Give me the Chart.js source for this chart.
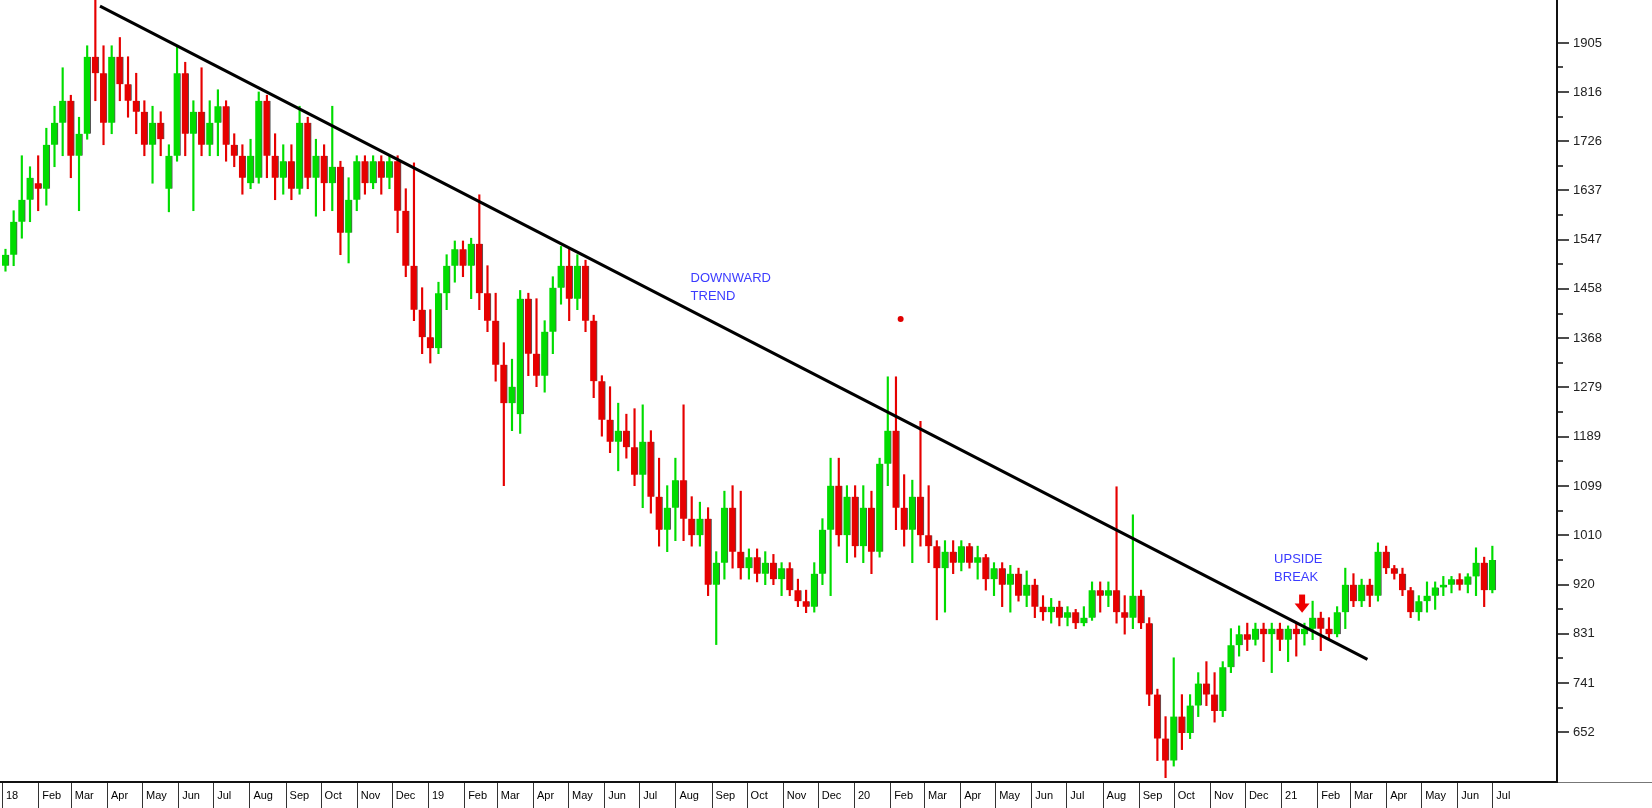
<!DOCTYPE html>
<html>
<head>
<meta charset="utf-8">
<script src="https://cdn.jsdelivr.net/npm/chart.js@4.4.1/dist/chart.umd.min.js"></script>
<style>
  html, body { margin: 0; padding: 0; background: #fff; }
  #wrap { width: 1652px; height: 808px; }
</style>
</head>
<body>
<div id="wrap"><canvas id="chart" width="1652" height="808"></canvas></div>
<script>
// weekly bars, first week starts Mon 1 Jan 2018
const firstWeek = "2018-01-01";

const opens = [
  1500, 1520, 1580, 1620, 1650, 1640, 1720, 1760, 1800, 1700,
  1740, 1880, 1850, 1760, 1880, 1830, 1800, 1780, 1720, 1760,
  1640, 1700, 1850, 1740, 1780, 1720, 1760, 1790, 1720, 1700,
  1650, 1660, 1800, 1700, 1660, 1690, 1640, 1760, 1660, 1700,
  1650, 1680, 1560, 1620, 1690, 1650, 1690, 1660, 1690, 1600,
  1500, 1420, 1370, 1350, 1450, 1500, 1530, 1500, 1540, 1450,
  1400, 1320, 1250, 1230, 1440, 1340, 1300, 1380, 1460, 1500,
  1440, 1500, 1400, 1290, 1220, 1180, 1200, 1170, 1120, 1180,
  1080, 1020, 1060, 1110, 1040, 1010, 1040, 920, 960, 1060,
  980, 950, 970, 940, 960, 930, 950, 910, 890, 880,
  940, 1020, 1100, 1010, 1080, 990, 1060, 980, 1140, 1200,
  1060, 1020, 1080, 1010, 990, 950, 980, 960, 990, 960,
  970, 930, 950, 920, 940, 900, 920, 880, 870, 880,
  860, 870, 850, 860, 910, 900, 910, 870, 860, 900,
  850, 720, 640, 600, 680, 650, 700, 740, 720, 690,
  770, 810, 830, 820, 840, 830, 840, 820, 840, 830,
  840, 860, 840, 830, 870, 920, 890, 920, 900, 980,
  950, 940, 910, 870, 890, 900, 915, 920, 930, 920,
  935, 960, 910
];
const highs = [
  1530, 1600, 1700, 1680, 1700, 1750, 1790, 1860, 1810, 1770,
  1900, 1983, 1900, 1900, 1915, 1880, 1850, 1800, 1790, 1780,
  1720, 1898, 1870, 1800, 1860, 1800, 1820, 1800, 1740, 1720,
  1730, 1816, 1810, 1740, 1720, 1720, 1790, 1770, 1730, 1720,
  1790, 1690, 1660, 1700, 1700, 1700, 1700, 1700, 1700, 1640,
  1687, 1460, 1420, 1470, 1520, 1545, 1545, 1550, 1629, 1500,
  1450, 1360, 1330, 1455, 1450, 1440, 1400, 1480, 1535, 1530,
  1520, 1510, 1410, 1300, 1280, 1250, 1230, 1240, 1247, 1200,
  1150, 1100, 1150, 1247, 1080, 1070, 1060, 980, 1090, 1100,
  1090, 985, 985, 980, 975, 960, 960, 930, 910, 960,
  1040, 1150, 1150, 1100, 1100, 1100, 1090, 1150, 1298, 1298,
  1120, 1110, 1217, 1100, 1000, 1000, 1000, 1000, 995, 990,
  975, 960, 960, 955, 950, 945, 930, 900, 895, 890,
  880, 875, 880, 925, 925, 925, 1098, 900, 1047, 910,
  860, 730, 680, 787, 720, 720, 760, 780, 760, 780,
  840, 845, 850, 850, 850, 850, 850, 845, 850, 850,
  890, 870, 860, 880, 950, 940, 930, 930, 996, 990,
  955, 950, 915, 900, 925, 925, 935, 935, 940, 940,
  987, 970, 990
];
const lows = [
  1490, 1500, 1550, 1580, 1600, 1610, 1680, 1700, 1660, 1600,
  1730, 1800, 1720, 1740, 1800, 1770, 1740, 1700, 1650, 1700,
  1598, 1690, 1700, 1600, 1700, 1700, 1700, 1690, 1680, 1630,
  1640, 1650, 1660, 1620, 1630, 1620, 1630, 1640, 1590, 1600,
  1600, 1520, 1505, 1600, 1630, 1640, 1630, 1640, 1560, 1480,
  1400, 1340, 1323, 1340, 1420, 1470, 1480, 1440, 1420, 1380,
  1290, 1100, 1200, 1195, 1300, 1280, 1270, 1340, 1430, 1400,
  1420, 1380, 1260, 1190, 1160, 1127, 1150, 1100, 1060, 1050,
  990, 980, 1000, 1000, 990, 990, 900, 811, 930, 950,
  930, 930, 925, 920, 920, 900, 900, 880, 869, 870,
  920, 900, 990, 960, 970, 960, 940, 970, 1100, 1020,
  990, 960, 990, 960, 856, 870, 940, 945, 950, 930,
  910, 900, 880, 870, 890, 880, 860, 855, 850, 845,
  845, 840, 845, 855, 870, 880, 850, 830, 840, 840,
  700, 600, 569, 590, 620, 640, 680, 700, 670, 680,
  760, 790, 800, 810, 780, 760, 800, 780, 790, 810,
  820, 800, 820, 825, 840, 880, 880, 880, 890, 940,
  930, 900, 860, 855, 870, 875, 900, 905, 910, 905,
  900, 880, 905
];
const closes = [
  1520, 1580, 1620, 1660, 1640, 1720, 1760, 1800, 1700, 1740,
  1880, 1850, 1760, 1880, 1830, 1800, 1780, 1720, 1760, 1730,
  1700, 1850, 1740, 1780, 1720, 1760, 1790, 1720, 1700, 1660,
  1700, 1800, 1700, 1660, 1690, 1640, 1760, 1660, 1700, 1650,
  1680, 1560, 1620, 1690, 1650, 1690, 1660, 1690, 1600, 1500,
  1420, 1370, 1350, 1450, 1500, 1530, 1500, 1540, 1450, 1400,
  1320, 1250, 1280, 1440, 1340, 1300, 1380, 1460, 1500, 1440,
  1500, 1400, 1290, 1220, 1180, 1200, 1170, 1120, 1180, 1080,
  1020, 1060, 1110, 1040, 1010, 1040, 920, 960, 1060, 980,
  950, 970, 940, 960, 930, 950, 910, 890, 880, 940,
  1020, 1100, 1010, 1080, 990, 1060, 980, 1140, 1200, 1060,
  1020, 1080, 1010, 990, 950, 980, 960, 990, 960, 970,
  930, 950, 920, 940, 900, 920, 880, 870, 880, 860,
  870, 850, 860, 910, 900, 910, 870, 860, 900, 850,
  720, 640, 600, 680, 650, 700, 740, 720, 690, 770,
  810, 830, 820, 840, 830, 840, 820, 840, 830, 840,
  860, 840, 830, 870, 920, 890, 920, 900, 980, 950,
  940, 910, 870, 890, 900, 915, 920, 930, 920, 935,
  960, 910, 965
];

const yTickLabels = [652, 741, 831, 920, 1010, 1099, 1189, 1279, 1368, 1458, 1547, 1637, 1726, 1816, 1905];
const monthLabels = [
  "18", "Feb", "Mar", "Apr", "May", "Jun", "Jul", "Aug", "Sep", "Oct", "Nov", "Dec",
  "19", "Feb", "Mar", "Apr", "May", "Jun", "Jul", "Aug", "Sep", "Oct", "Nov", "Dec",
  "20", "Feb", "Mar", "Apr", "May", "Jun", "Jul", "Aug", "Sep", "Oct", "Nov", "Dec",
  "21", "Feb", "Mar", "Apr", "May", "Jun", "Jul"
];

// trendline end points (date, price) and the marker dot
const trendDates = ["2018-03-26", "2021-03-16"];
const trendPrices = [1972, 784];
const dotDate = "2020-02-10";
const dotPrice = 1403;

const DAY = 86400000;
const dayOf = s => (Date.parse(s) - Date.parse(firstWeek)) / DAY;

const monthDays = monthLabels.map((_, i) => (Date.UTC(2018, i, 1) - Date.UTC(2018, 0, 1)) / DAY);
const barDay = i => dayOf(firstWeek) + i * 7 + 3;

const GREEN = "#00dc00";
const RED = "#e60000";
const colorAt = i => (closes[i] >= opens[i] ? GREEN : RED);

const bodies = opens.map((o, i) => ({ x: barDay(i), y: [o, closes[i]] }));
const wicks = opens.map((o, i) => ({ x: barDay(i), y: [lows[i], highs[i]] }));
const trend = trendDates.map((d, i) => ({ x: dayOf(d), y: trendPrices[i] }));

const notes = [
  { lines: ["DOWNWARD", "TREND"], date: "2019-08-14", price: 1488 },
  { lines: ["UPSIDE", "BREAK"], date: "2020-12-26", price: 978 }
];
const arrow = { date: "2021-01-19", top: 902, tip: 869 };

const FONT = '"Liberation Sans", Arial, sans-serif';

const frame = {
  id: "frame",
  afterDraw(chart) {
    const { ctx, chartArea: a, scales: { x, y } } = chart;
    const line = (x1, y1, x2, y2) => { ctx.beginPath(); ctx.moveTo(x1, y1); ctx.lineTo(x2, y2); ctx.stroke(); };
    ctx.save();

    // month boxes in the date row
    ctx.strokeStyle = "#333";
    ctx.lineWidth = 1;
    monthDays.forEach(d => {
      const px = Math.round(x.getPixelForValue(d)) + 0.5;
      line(px, a.bottom, px, chart.height);
    });
    ctx.strokeStyle = "#777";
    line(a.right, a.bottom + 0.5, chart.width, a.bottom + 0.5);

    ctx.strokeStyle = "#111";
    ctx.lineWidth = 2;
    line(0, a.bottom, a.right + 1, a.bottom);
    line(a.right, 0, a.right, a.bottom);

    // price ticks, minor between labelled ones
    ctx.lineWidth = 1.5;
    yTickLabels.forEach((v, i) => {
      const py = Math.round(y.getPixelForValue(v));
      line(a.right, py, a.right + 12, py);
      if (i > 0) {
        const pm = Math.round(y.getPixelForValue((v + yTickLabels[i - 1]) / 2));
        line(a.right, pm, a.right + 6, pm);
      }
    });

    // notes
    ctx.fillStyle = "#3b3bff";
    ctx.font = "13px " + FONT;
    ctx.textBaseline = "top";
    notes.forEach(n => {
      const px = x.getPixelForValue(dayOf(n.date));
      const py = y.getPixelForValue(n.price);
      n.lines.forEach((t, k) => ctx.fillText(t, px, py + k * 18));
    });

    // red arrow
    const ax = x.getPixelForValue(dayOf(arrow.date));
    const at = y.getPixelForValue(arrow.top);
    const ab = y.getPixelForValue(arrow.tip);
    const mid = at + (ab - at) * 0.5;
    ctx.fillStyle = "#ee0000";
    ctx.fillRect(ax - 3, at, 6, mid - at + 1);
    ctx.beginPath();
    ctx.moveTo(ax - 7.5, mid);
    ctx.lineTo(ax + 7.5, mid);
    ctx.lineTo(ax, ab);
    ctx.closePath();
    ctx.fill();

    ctx.restore();
  }
};

new Chart(document.getElementById("chart").getContext("2d"), {
  type: "bar",
  data: {
    datasets: [
      {
        type: "line",
        data: trend,
        borderColor: "#000",
        borderWidth: 3,
        pointRadius: 0,
        order: 0
      },
      {
        type: "scatter",
        data: [{ x: dayOf(dotDate), y: dotPrice }],
        backgroundColor: "#e00000",
        borderWidth: 0,
        pointRadius: 3,
        order: 0
      },
      {
        data: bodies,
        backgroundColor: c => colorAt(c.dataIndex),
        borderColor: "#555",
        borderWidth: { left: 0, right: 1, top: 0, bottom: 0 },
        borderSkipped: false,
        barThickness: 7,
        grouped: false,
        order: 1
      },
      {
        data: wicks,
        backgroundColor: c => colorAt(c.dataIndex),
        barThickness: 1.5,
        grouped: false,
        order: 2
      }
    ]
  },
  options: {
    responsive: false,
    animation: false,
    devicePixelRatio: 1,
    layout: { padding: 0, autoPadding: false },
    plugins: {
      legend: { display: false },
      tooltip: { enabled: false }
    },
    scales: {
      x: {
        type: "linear",
        min: -1.7,
        max: 1332.4,
        offset: false,
        grid: { display: false, drawTicks: false },
        border: { display: false },
        afterBuildTicks: s => { s.ticks = monthDays.map(v => ({ value: v })); },
        afterFit: s => { s.height = 26; s.paddingLeft = 0; s.paddingRight = 0; },
        ticks: {
          autoSkip: false,
          maxRotation: 0,
          align: "start",
          labelOffset: 4,
          padding: 7,
          color: "#000",
          font: { family: FONT, size: 11 },
          callback: (v, i) => monthLabels[i]
        }
      },
      y: {
        position: "right",
        min: 561.1,
        max: 1983.2,
        grid: { display: false, drawTicks: false },
        border: { display: false },
        afterBuildTicks: s => { s.ticks = yTickLabels.map(v => ({ value: v })); },
        afterFit: s => { s.width = 95; s.paddingTop = 0; s.paddingBottom = 0; },
        ticks: {
          padding: 16,
          color: "#222",
          font: { family: FONT, size: 13 },
          callback: v => String(v)
        }
      }
    }
  },
  plugins: [frame]
});
</script>
</body>
</html>
